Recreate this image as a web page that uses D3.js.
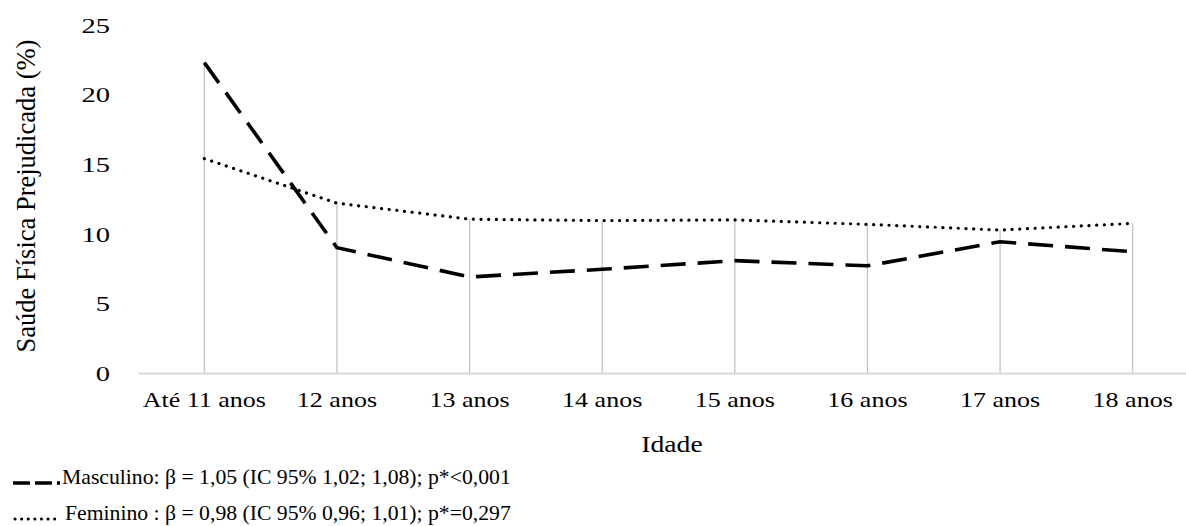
<!DOCTYPE html>
<html>
<head>
<meta charset="utf-8">
<script src="https://cdn.jsdelivr.net/npm/d3@7"></script>
<style>
  html, body { margin: 0; padding: 0; background: #ffffff; }
  svg { display: block; }
  svg text { font-family: "Liberation Serif", serif; }
</style>
</head>
<body>
<svg id="chart" width="1186" height="526"></svg>
<script>
const categories = ["Até 11 anos", "12 anos", "13 anos", "14 anos", "15 anos", "16 anos", "17 anos", "18 anos"];
const masculino = [22.3, 9.0, 6.9, 7.45, 8.07, 7.7, 9.43, 8.71];
const feminino  = [15.4, 12.2, 11.05, 10.95, 11.0, 10.68, 10.27, 10.75];
const yTicks = [0, 5, 10, 15, 20, 25];
const legendLabels = [
  "Masculino: β = 1,05 (IC 95% 1,02; 1,08); p*<0,001",
  "Feminino : β = 0,98 (IC 95% 0,96; 1,01); p*=0,297"
];
const xTitle = "Idade";
const yTitle = "Saúde Física Prejudicada (%)";

const FONT = "Liberation Serif";
const svg = d3.select("#chart");

const x = d3.scaleBand().domain(categories).range([138, 1199]).padding(0);
const y = d3.scaleLinear().domain([0, 25]).range([373, 25]);
const cx = c => x(c) + x.bandwidth() / 2;

// drop lines
svg.append("g").selectAll("line")
  .data(categories)
  .join("line")
  .attr("x1", d => cx(d)).attr("x2", d => cx(d))
  .attr("y1", y(0))
  .attr("y2", (d, i) => y(Math.max(masculino[i], feminino[i])))
  .attr("stroke", "#bfbfbf").attr("stroke-width", 1.2);

// x axis
const xAxis = svg.append("g")
  .attr("transform", `translate(0,${y(0)})`)
  .call(d3.axisBottom(x).tickSize(0).tickPadding(0));
xAxis.attr("font-family", FONT);
xAxis.select(".domain").attr("stroke", "#d9d9d9").attr("stroke-width", 2);
xAxis.selectAll("text")
  .attr("y", 34).attr("dy", null)
  .attr("font-size", 20)
  .attr("font-family", FONT)
  .attr("fill", "#000")
  .attr("transform", "scale(1.3,1)");

// y axis
const yAxis = svg.append("g")
  .attr("transform", "translate(110,0)")
  .call(d3.axisLeft(y).tickValues(yTicks).tickSize(0).tickPadding(0).tickFormat(d3.format("d")));
yAxis.attr("font-family", FONT);
yAxis.select(".domain").remove();
yAxis.selectAll("text")
  .attr("x", 0).attr("dy", "0.33em")
  .attr("font-size", 22)
  .attr("font-family", FONT)
  .attr("fill", "#000")
  .attr("transform", "scale(1.3,1)");

// lines
const line = d3.line().x((d, i) => cx(categories[i])).y(d => y(d));

svg.append("path")
  .datum(feminino)
  .attr("d", line)
  .attr("fill", "none").attr("stroke", "#000")
  .attr("stroke-width", 3.2)
  .attr("stroke-linecap", "round")
  .attr("stroke-dasharray", "0.1,7.6");

svg.append("path")
  .datum(masculino)
  .attr("d", line)
  .attr("fill", "none").attr("stroke", "#000")
  .attr("stroke-width", 3.6)
  .attr("stroke-dasharray", "25,12");

// axis titles
svg.append("text")
  .attr("transform", "translate(672,452) scale(1.23,1)")
  .attr("text-anchor", "middle")
  .attr("font-family", FONT)
  .attr("font-size", 22.5)
  .text(xTitle);

svg.append("text")
  .attr("transform", "translate(35,196) rotate(-90)")
  .attr("text-anchor", "middle")
  .attr("font-family", FONT)
  .attr("font-size", 26.5)
  .text(yTitle);

// legend
const leg = svg.append("g");
leg.append("line")
  .attr("x1", 13).attr("x2", 60).attr("y1", 483).attr("y2", 483)
  .attr("stroke", "#000").attr("stroke-width", 3.6)
  .attr("stroke-dasharray", "17,5");
leg.append("line")
  .attr("x1", 15).attr("x2", 61).attr("y1", 519).attr("y2", 519)
  .attr("stroke", "#000").attr("stroke-width", 3)
  .attr("stroke-linecap", "round")
  .attr("stroke-dasharray", "0.1,6.5");
leg.append("text").attr("x", 62).attr("y", 484).attr("font-family", FONT).attr("font-size", 21.7).text(legendLabels[0]);
leg.append("text").attr("x", 65).attr("y", 520).attr("font-family", FONT).attr("font-size", 21.7).text(legendLabels[1]);
</script>
</body>
</html>
